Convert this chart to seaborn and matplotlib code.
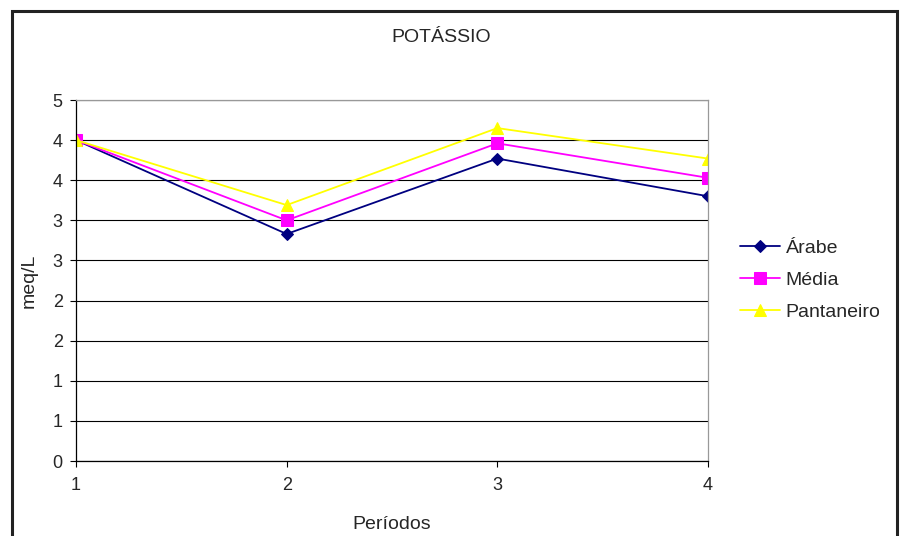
import matplotlib
matplotlib.use("Agg")
import matplotlib.pyplot as plt
import seaborn as sns
import pandas as pd
from matplotlib.patches import Rectangle
from matplotlib.ticker import FixedLocator, FixedFormatter

periodos = [1, 2, 3, 4]
arabe = [4.00, 2.83, 3.77, 3.30]
media = [4.00, 3.00, 3.96, 3.53]
pantaneiro = [4.00, 3.19, 4.15, 3.77]
series_names = ["Árabe", "Média", "Pantaneiro"]
y_ticks = [0, 0.5, 1, 1.5, 2, 2.5, 3, 3.5, 4, 4.5]
y_tick_labels = ["0", "1", "1", "2", "2", "3", "3", "4", "4", "5"]
x_tick_labels = ["1", "2", "3", "4"]

df = pd.DataFrame({
    "Período": periodos * 3,
    "valor": arabe + media + pantaneiro,
    "serie": [series_names[0]] * 4 + [series_names[1]] * 4 + [series_names[2]] * 4,
})

sns.set_theme(style="white")
plt.rcParams['font.family'] = ['Liberation Sans', 'DejaVu Sans']

fig = plt.figure(figsize=(9.04, 5.36), dpi=100)
ax = fig.add_axes([76/904, 75/536, 632/904, 361/536])

palette = {"Árabe": "#000080", "Média": "#FF00FF", "Pantaneiro": "#FFFF00"}
markers = {"Árabe": "D", "Média": "s", "Pantaneiro": "^"}
sizes_m = {"Árabe": 6, "Média": 8, "Pantaneiro": 9}

for name in series_names:
    sub = df[df["serie"] == name]
    sns.lineplot(data=sub, x="Período", y="valor", ax=ax, color=palette[name],
                 marker=markers[name], markersize=sizes_m[name],
                 markeredgecolor=palette[name], linewidth=1.3, label=name)

ax.set_xlim(1, 4)
ax.set_ylim(0, 4.5)
ax.yaxis.set_major_locator(FixedLocator(y_ticks))
ax.yaxis.set_major_formatter(FixedFormatter(y_tick_labels))
ax.xaxis.set_major_locator(FixedLocator(periodos))
ax.xaxis.set_major_formatter(FixedFormatter(x_tick_labels))
ax.tick_params(axis="both", which="major", direction="out", length=4.5, width=0.8,
               color="black", labelsize=13, left=True, bottom=True)
ax.tick_params(axis="y", pad=5)
ax.tick_params(axis="x", pad=7)
ax.yaxis.grid(True, color="black", linewidth=0.8)
ax.set_axisbelow(True)
for s in ["left", "bottom"]:
    ax.spines[s].set_color("black")
    ax.spines[s].set_linewidth(0.9)
for s in ["top", "right"]:
    ax.spines[s].set_color("#999999")
    ax.spines[s].set_linewidth(0.9)

ax.set_xlabel("Períodos", fontsize=14, labelpad=16)
ax.set_ylabel("meq/L", fontsize=14, labelpad=11)

fig.text(441/904, 1 - 37/536, "POTÁSSIO", ha="center", va="center", fontsize=14)

leg = ax.legend(loc="center left", bbox_to_anchor=(740/904, 1 - 280/536),
                bbox_transform=fig.transFigure, frameon=False, fontsize=14,
                handlelength=2.05, handletextpad=0.3, labelspacing=0.75,
                borderaxespad=0, borderpad=0)

fig.patches.append(Rectangle((12/904, -0.05), 885/904, 1.05 - 11/536,
                             transform=fig.transFigure, fill=False,
                             edgecolor="#222222", linewidth=2.2))

fig.savefig("out.png", dpi=100)
